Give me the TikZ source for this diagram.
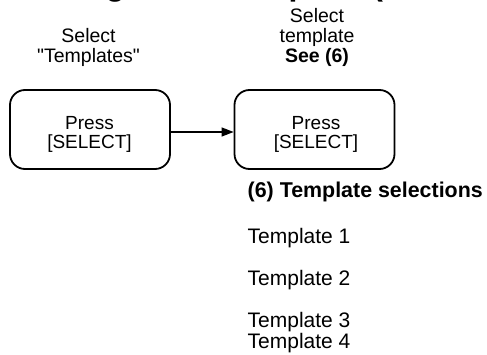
\documentclass[tikz,border=0pt]{standalone}
\usepackage{fontspec}
\setmainfont{Liberation Sans}[Ligatures=TeXOff]
\usetikzlibrary{arrows.meta}
\begin{document}
\begin{tikzpicture}[x=1pt,y=-1pt,
  stepbox/.style={draw, line width=1.8pt, rounded corners=15pt, minimum width=160pt, minimum height=79pt, inner sep=0pt},
  lbl/.style={anchor=base, inner sep=0pt, font=\fontsize{19.5}{20}\selectfont},
  boxtxt/.style={anchor=base, inner sep=0pt, font=\fontsize{19}{20}\selectfont},
  item/.style={anchor=base west, inner sep=0pt, font=\fontsize{21}{22}\selectfont},
  head/.style={anchor=base west, inner sep=0pt, font=\fontsize{21.4}{22}\bfseries\selectfont},
  titlest/.style={anchor=base west, inner sep=0pt, font=\fontsize{32}{36}\bfseries\selectfont},
  flow/.style={line width=1.3pt, -{Triangle[length=12pt,width=9pt]}}]
\useasboundingbox (0,0) rectangle (487,355);
% title (mostly outside the page)
\node[titlest] (title) at (36,-4.3) {Using a new template (continued)};
% boxes
\node[stepbox] (b1) at (90,129.5) {};
\node[stepbox] (b2) at (314.5,129.5) {};
\node[boxtxt] (b1a) at (89.5,130) {Press};
\node[boxtxt] (b1b) at (89.5,148.3) {[SELECT]};
\node[boxtxt] (b2a) at (316,130) {Press};
\node[boxtxt] (b2b) at (316,148.3) {[SELECT]};
\draw[flow] ([yshift=-2.5pt]b1.east) -- ([yshift=-2.5pt]b2.west);
% labels above
\node[lbl] (l1a) at (88.5,43) {Select};
\node[lbl] (l1b) at (88.5,63) {"Templates"};
\node[lbl] (l2a) at (317,23) {Select};
\node[lbl] (l2b) at (317,43) {template};
\node[lbl] (l2c) at (317,63) {\bfseries See (6)};
% template list
\node[head] (h6) at (247.5,198) {(6) Template selections};
\node[item] (t1) at (247.5,244) {Template 1};
\node[item] (t2) at (247.5,285.5) {Template 2};
\node[item] (t3) at (247.5,327) {Template 3};
\node[item] (t4) at (247.5,348.3) {Template 4};
\end{tikzpicture}
\end{document}
